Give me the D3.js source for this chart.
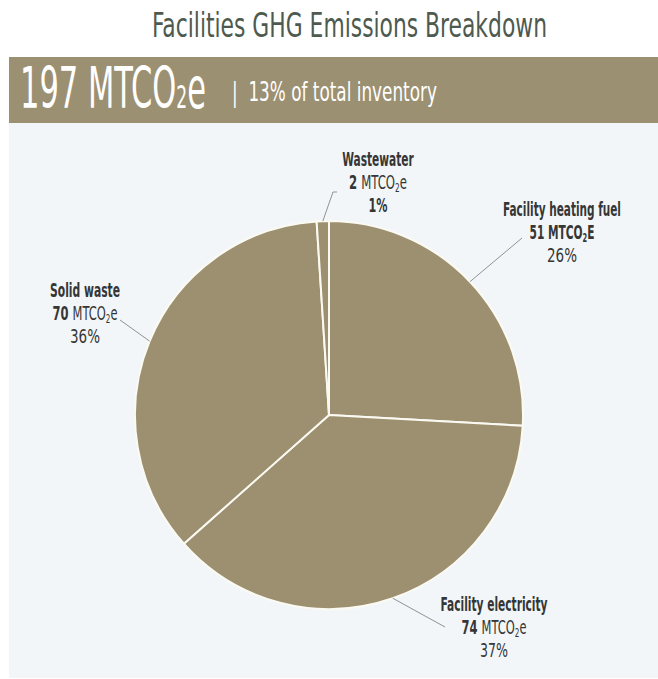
<!DOCTYPE html>
<html>
<head>
<meta charset="utf-8">
<script src="https://cdn.jsdelivr.net/npm/d3@7"></script>
<style>
  body { margin: 0; background: #fff; }
  svg { display: block; }
</style>
</head>
<body>
<svg id="chart" width="658" height="679"></svg>
<script>
// chart data
const categories = ['Facility heating fuel', 'Facility electricity', 'Solid waste', 'Wastewater'];
const values = [51, 74, 70, 2];
const percentLabels = ['26%', '37%', '36%', '1%'];
const totalValue = 197;
const totalShare = '13%';

// label layout: centre x, first baseline, line widths, leader end
const labelLayout = [
  { x: 562, y: 216, widths: [118, 65, 30], end: [522, 238], allBold: true, pctBold: false },
  { x: 494, y: 611, widths: [107, 65, 28], end: [445, 627], allBold: false, pctBold: false },
  { x: 85, y: 297, widths: [70, 65, 30], end: [120, 320], allBold: false, pctBold: false },
  { x: 378, y: 166, widths: [72, 58, 19], end: [333, 192], hook: 4, allBold: false, pctBold: true }
];

const width = 658;
const height = 679;
const centre = { x: 329, y: 415 };
const radius = 194;

const svg = d3.select('#chart');
const font = "'Liberation Sans Narrow', 'DejaVu Sans Condensed', sans-serif";

// squeeze a text element into a given width (the source uses a very condensed face)
function fit(g, target) {
  const w = g.node().getBBox().width;
  const t = g.attr('data-t');
  g.attr('transform', `${t} scale(${target / w},1)`);
}

// title
const title = svg.append('g')
  .attr('data-t', `translate(349.5,37)`);
title.append('text')
  .attr('text-anchor', 'middle')
  .attr('font-family', font)
  .attr('font-size', 33)
  .attr('fill', '#4e5a4f')
  .text('Facilities GHG Emissions Breakdown');
fit(title, 395);

// panel + header band
svg.append('rect')
  .attr('x', 9).attr('y', 57)
  .attr('width', width - 9).attr('height', height - 57 - 1)
  .attr('fill', '#f3f6f9');
svg.append('rect')
  .attr('x', 9).attr('y', 57)
  .attr('width', width - 9).attr('height', 66)
  .attr('fill', '#9c9072');

const big = svg.append('g').attr('data-t', 'translate(20,108)');
const bigText = big.append('text')
  .attr('font-family', font)
  .attr('font-size', 57)
  .attr('fill', '#fff');
bigText.append('tspan').text(`${totalValue} MTCO`);
bigText.append('tspan').attr('font-size', 32).text('2');
bigText.append('tspan').text('e');
fit(big, 186);

const share = svg.append('g').attr('data-t', 'translate(232,101)');
share.append('text')
  .attr('font-family', font)
  .attr('font-size', 27)
  .attr('fill', '#fff')
  .attr('xml:space', 'preserve')
  .text(`|  ${totalShare} of total inventory`);
fit(share, 205);

// pie
const pie = d3.pie().sort(null).value((d) => d);
const arcs = pie(values);
const arc = d3.arc().innerRadius(0).outerRadius(radius);
const edge = d3.arc().innerRadius(radius).outerRadius(radius);

const plot = svg.append('g')
  .attr('transform', `translate(${centre.x},${centre.y})`);

plot.selectAll('path.slice')
  .data(arcs)
  .enter()
  .append('path')
  .attr('class', 'slice')
  .attr('d', arc)
  .attr('fill', '#9c9070')
  .attr('stroke', '#fbfaf2')
  .attr('stroke-width', 2)
  .attr('stroke-linejoin', 'round');

// leader lines from the rim of each slice
svg.selectAll('path.leader')
  .data(arcs)
  .enter()
  .append('path')
  .attr('class', 'leader')
  .attr('fill', 'none')
  .attr('stroke', '#8f9396')
  .attr('stroke-width', 1)
  .attr('d', (d, i) => {
    const [ex, ey] = edge.centroid(d);
    const L = labelLayout[i];
    const p = d3.path();
    p.moveTo(centre.x + ex, centre.y + ey);
    p.lineTo(L.end[0], L.end[1]);
    if (L.hook) p.lineTo(L.end[0] + L.hook, L.end[1]);
    return p.toString();
  });

// labels, three lines each
const lineGap = 23;
categories.forEach((name, i) => {
  const L = labelLayout[i];

  const g1 = svg.append('g').attr('data-t', `translate(${L.x},${L.y})`);
  g1.append('text')
    .attr('text-anchor', 'middle')
    .attr('font-family', font)
    .attr('font-weight', 'bold')
    .attr('font-size', 19)
    .attr('fill', '#363636')
    .text(name);
  fit(g1, L.widths[0]);

  const g2 = svg.append('g').attr('data-t', `translate(${L.x},${L.y + lineGap})`);
  const t2 = g2.append('text')
    .attr('text-anchor', 'middle')
    .attr('font-family', font)
    .attr('font-size', 19)
    .attr('fill', '#363636');
  t2.append('tspan').attr('font-weight', 'bold').text(`${values[i]} `);
  t2.append('tspan').attr('font-weight', L.allBold ? 'bold' : 'normal').text('MTCO');
  t2.append('tspan').attr('font-weight', L.allBold ? 'bold' : 'normal')
    .attr('font-size', 12).attr('dy', 3).text('2');
  t2.append('tspan').attr('font-weight', L.allBold ? 'bold' : 'normal')
    .attr('dy', -3).text(L.allBold ? 'E' : 'e');
  fit(g2, L.widths[1]);

  const g3 = svg.append('g').attr('data-t', `translate(${L.x},${L.y + lineGap * 2})`);
  g3.append('text')
    .attr('text-anchor', 'middle')
    .attr('font-family', font)
    .attr('font-weight', L.pctBold ? 'bold' : 'normal')
    .attr('font-size', 19)
    .attr('fill', '#363636')
    .text(percentLabels[i]);
  fit(g3, L.widths[2]);
});
</script>
</body>
</html>
